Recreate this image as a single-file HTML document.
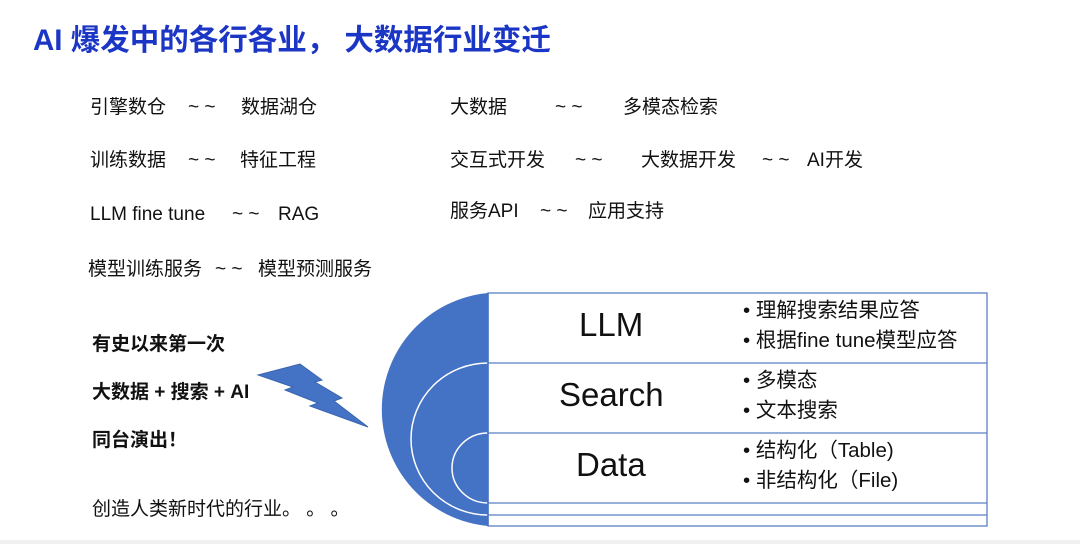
<!DOCTYPE html>
<html><head><meta charset="utf-8"><style>
body{margin:0;width:1080px;height:544px;background:#fff;position:relative;overflow:hidden;font-family:"Liberation Sans","Noto Sans CJK SC",sans-serif;color:#111}
.t{position:absolute;white-space:pre;font-size:19px;line-height:22px}
.b{font-weight:bold}
.r{font-size:20.5px;line-height:24px}
</style></head><body>
<div class="t b" style="left:33px;top:25px;font-size:29.5px;line-height:32px;color:#1b35c4">AI 爆发中的各行各业， 大数据行业变迁</div>

<div class="t" style="left:90px;top:97px">引擎数仓</div><div class="t" style="left:188px;top:97px">~ ~</div><div class="t" style="left:241px;top:97px">数据湖仓</div>
<div class="t" style="left:90px;top:150px">训练数据</div><div class="t" style="left:188px;top:150px">~ ~</div><div class="t" style="left:240px;top:150px">特征工程</div>
<div class="t" style="left:90px;top:204px">LLM fine tune</div><div class="t" style="left:232px;top:204px">~ ~</div><div class="t" style="left:278px;top:204px">RAG</div>
<div class="t" style="left:88px;top:259px">模型训练服务</div><div class="t" style="left:215px;top:259px">~ ~</div><div class="t" style="left:258px;top:259px">模型预测服务</div>

<div class="t" style="left:450px;top:97px">大数据</div><div class="t" style="left:555px;top:97px">~ ~</div><div class="t" style="left:623px;top:97px">多模态检索</div>
<div class="t" style="left:450px;top:150px">交互式开发</div><div class="t" style="left:575px;top:150px">~ ~</div><div class="t" style="left:641px;top:150px">大数据开发</div><div class="t" style="left:762px;top:150px">~ ~</div><div class="t" style="left:807px;top:150px">AI开发</div>
<div class="t" style="left:450px;top:201px">服务API</div><div class="t" style="left:540px;top:201px">~ ~</div><div class="t" style="left:588px;top:201px">应用支持</div>

<div class="t b" style="left:92px;top:334px;font-size:19px">有史以来第一次</div>
<div class="t b" style="left:92px;top:382px;font-size:19px">大数据 + 搜索 + AI</div>
<div class="t b" style="left:92px;top:430px;font-size:19px">同台演出！</div>
<div class="t" style="left:92px;top:499px">创造人类新时代的行业。 。 。</div>
<svg style="position:absolute;left:0;top:0" width="1080" height="544">
<polygon points="258,375 300,364 322,380 315,382 342,398 334,401 368,427 310,406 318,403 285,390 293,387" fill="#4472c4" stroke="#3a64b0" stroke-width="1"/>
<path d="M488,293 A117,117 0 0 0 488,526 Z" fill="#4472c4"/>
<path d="M488,363 A77,76 0 0 0 488,515" fill="none" stroke="#fff" stroke-width="1.5"/>
<path d="M488,433 A36,35 0 0 0 488,503" fill="none" stroke="#fff" stroke-width="1.5"/>
<rect x="488" y="293" width="499" height="233" fill="#fff" stroke="#5b7fc4" stroke-width="1.3"/>
<g stroke="#5b7fc4" stroke-width="1.3"><line x1="488" y1="363" x2="987" y2="363"/><line x1="488" y1="433" x2="987" y2="433"/><line x1="488" y1="503" x2="987" y2="503"/><line x1="488" y1="515" x2="987" y2="515"/></g>
<line x1="488" y1="293" x2="488" y2="526" stroke="#4472c4" stroke-width="1.5"/>
</svg>
<div class="t" style="left:579px;top:305px;font-size:33px;line-height:40px">LLM</div>
<div class="t" style="left:559px;top:375px;font-size:33px;line-height:40px">Search</div>
<div class="t" style="left:576px;top:445px;font-size:33px;line-height:40px">Data</div>
<div class="t r" style="left:743px;top:299px">• 理解搜索结果应答</div>
<div class="t r" style="left:743px;top:329px">• 根据fine tune模型应答</div>
<div class="t r" style="left:743px;top:369px">• 多模态</div>
<div class="t r" style="left:743px;top:399px">• 文本搜索</div>
<div class="t r" style="left:743px;top:439px">• 结构化（Table)</div>
<div class="t r" style="left:743px;top:469px">• 非结构化（File)</div>
<div style="position:absolute;left:0;top:540px;width:1080px;height:4px;background:#f0f0f0"></div>
</body></html>
